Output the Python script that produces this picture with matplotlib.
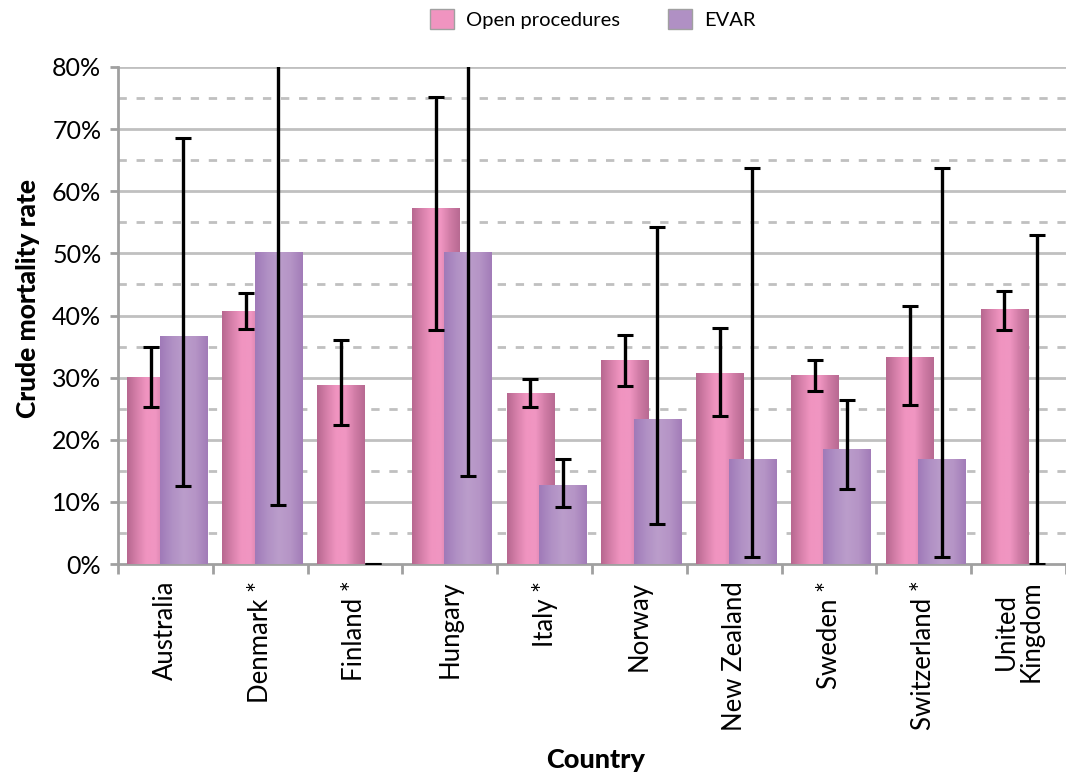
import numpy as np
import matplotlib
matplotlib.use("Agg")
import matplotlib.pyplot as plt
from matplotlib.colors import LinearSegmentedColormap
from matplotlib.patches import Patch
from matplotlib.ticker import MultipleLocator, FuncFormatter

plt.rcParams['font.family'] = ['Lato', 'DejaVu Sans']

# data (percent)
countries = ["Australia", "Denmark *", "Finland *", "Hungary", "Italy *", "Norway",
             "New Zealand", "Sweden *", "Switzerland *", "United\nKingdom"]
open_rate = [30.0, 40.7, 28.8, 57.3, 27.5, 32.7, 30.6, 30.3, 33.2, 40.9]
open_lo = [25.2, 37.8, 22.3, 37.7, 25.3, 28.7, 23.9, 27.9, 25.6, 37.7]
open_hi = [35.0, 43.7, 36.0, 75.1, 29.7, 36.9, 38.0, 32.9, 41.6, 44.0]
evar_rate = [36.6, 50.2, 0.0, 50.2, 12.6, 23.3, 16.9, 18.4, 16.9, 0.0]
evar_lo = [12.6, 9.5, 0.0, 14.2, 9.1, 6.4, 1.2, 12.1, 1.2, 0.0]
evar_hi = [68.6, 100.0, 0.0, 100.0, 16.9, 54.2, 63.7, 26.4, 63.7, 52.9]

open_cmap = LinearSegmentedColormap.from_list(
    "openc", ["#b86890", "#d680aa", "#f094c0", "#f096c2", "#d07ca6", "#b86a92"])
evar_cmap = LinearSegmentedColormap.from_list(
    "evarc", ["#a07ab8", "#b090c4", "#bb9dcb", "#b594c6", "#a27cb8"])

fig = plt.figure(figsize=(10.66, 7.76), dpi=100)
ax = fig.add_axes([118 / 1066, 1 - 564 / 776, 948 / 1066, (564 - 67) / 776])

x = np.arange(len(countries))
w = 0.5
grad = np.linspace(0, 1, 64).reshape(1, -1)

bars_open = ax.bar(x - 0.15, open_rate, w, color="none", zorder=3)
bars_evar = ax.bar(x + 0.19, evar_rate, w, color="none", zorder=4)
# horizontal gradient fill inside each bar
for bars, cmap, z in [(bars_open, open_cmap, 3), (bars_evar, evar_cmap, 4)]:
    for b in bars:
        if b.get_height() <= 0:
            continue
        ax.imshow(grad, cmap=cmap, aspect="auto", zorder=z,
                  extent=(b.get_x(), b.get_x() + b.get_width(), 0, b.get_height()))

ekw = dict(fmt="none", ecolor="black", elinewidth=2.4, capsize=5.5, capthick=2.2)
ax.errorbar(x - 0.15, open_rate,
            yerr=[np.subtract(open_rate, open_lo), np.subtract(open_hi, open_rate)],
            zorder=5, **ekw)
ax.errorbar(x + 0.19, evar_rate,
            yerr=[np.subtract(evar_rate, evar_lo), np.subtract(evar_hi, evar_rate)],
            zorder=5, **ekw)

ax.set_xlim(-0.5, 9.48)
ax.set_ylim(0, 80)
ax.set_aspect("auto")

# grid: solid at 10%, dashed at 5%
for v in np.arange(10, 81, 10):
    ax.axhline(v, color="#c0c0c0", lw=2, zorder=1)
for v in np.arange(5, 80, 10):
    ax.axhline(v, color="#c0c0c0", lw=2, ls=(0, (3, 3.5)), zorder=1)

ax.yaxis.set_major_locator(MultipleLocator(10))
ax.yaxis.set_major_formatter(FuncFormatter(lambda v, p: f"{v:.0f}%"))
ax.tick_params(axis="y", length=6, width=2, color="#a0a0a0", labelsize=18, pad=6)

ax.set_xticks(np.arange(-0.5, 10, 1), minor=False)
ax.set_xticklabels([])
ax.set_xticks(x, minor=True)
ax.set_xticklabels(countries, minor=True, rotation=90, fontsize=18.5, linespacing=1.0)
ax.tick_params(axis="x", which="major", length=7, width=2, color="#a0a0a0")
ax.tick_params(axis="x", which="minor", length=0, pad=12)

for s in ["top", "right"]:
    ax.spines[s].set_visible(False)
for s in ["left", "bottom"]:
    ax.spines[s].set_color("#a0a0a0")
    ax.spines[s].set_linewidth(2)

fig.text(28 / 1066, 1 - 298 / 776, "Crude mortality rate", rotation=90,
         ha="center", va="center", fontsize=19, fontweight="black")
fig.text(596 / 1066, 1 - 760 / 776, "Country", ha="center", va="center",
         fontsize=19.5, fontweight="black")

handles = [Patch(facecolor="#f094c0", edgecolor="#a0a0a0", label="Open procedures"),
           Patch(facecolor="#b090c4", edgecolor="#a0a0a0", label="EVAR")]
fig.legend(handles=handles, loc="center", bbox_to_anchor=(0.556, 1 - 19 / 776),
           ncol=2, frameon=False, fontsize=14.5, handlelength=1.2, handleheight=1.2,
           columnspacing=2.4, handletextpad=0.6)

fig.savefig("out.png", dpi=100)
